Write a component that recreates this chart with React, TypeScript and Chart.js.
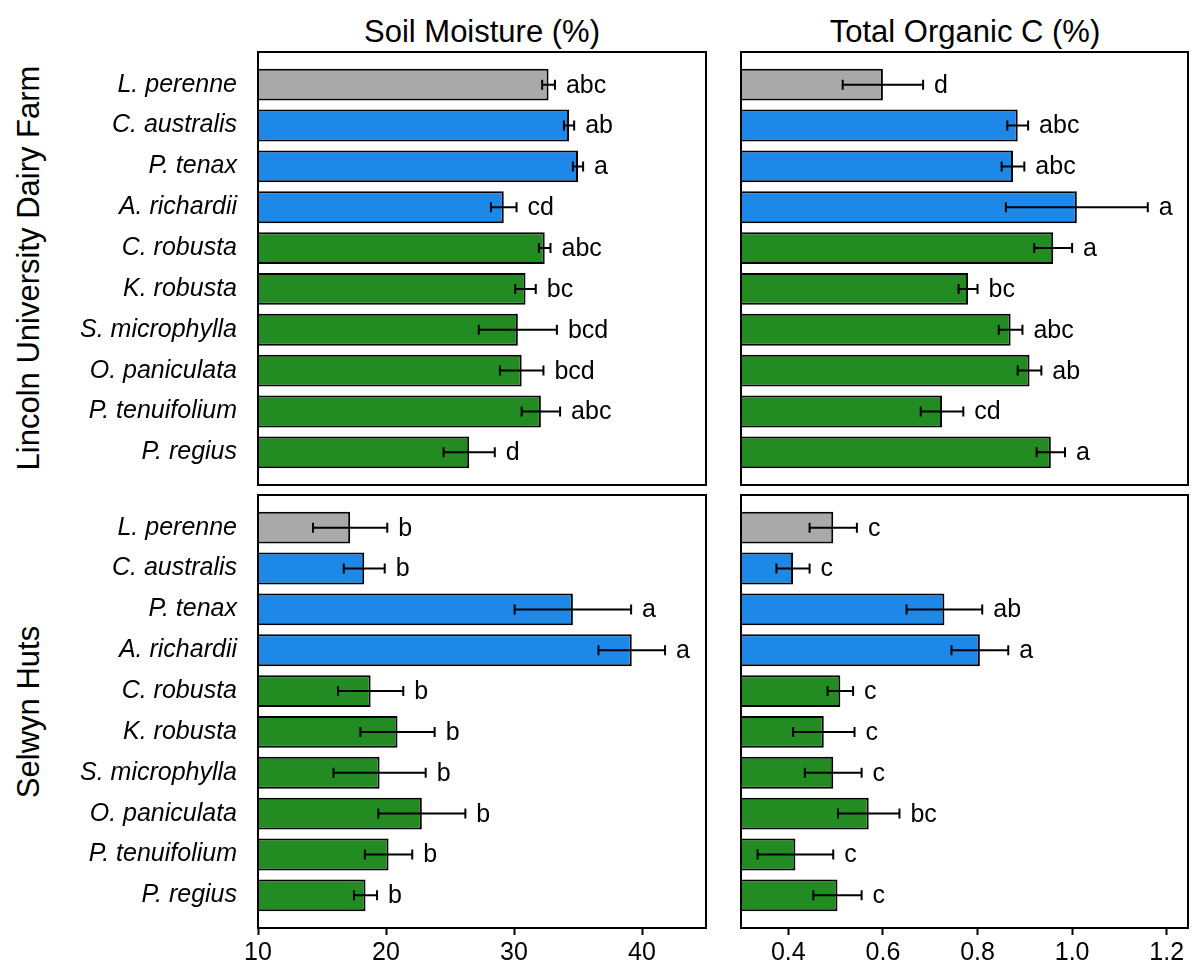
import React, { useEffect, useRef } from 'react';
import { Chart, registerables } from 'chart.js';

Chart.register(...registerables);

const FONT = '"Liberation Sans", Arial, Helvetica, sans-serif';

// Species, top to bottom, and their planting-group colours
const species = [
  'L. perenne',
  'C. australis',
  'P. tenax',
  'A. richardii',
  'C. robusta',
  'K. robusta',
  'S. microphylla',
  'O. paniculata',
  'P. tenuifolium',
  'P. regius',
];
const GRAY = '#A9A9A9';
const BLUE = '#1E88E8';
const GREEN = '#228B22';
const speciesFill = [GRAY, BLUE, BLUE, BLUE, GREEN, GREEN, GREEN, GREEN, GREEN, GREEN];

// Soil moisture (%), Lincoln University Dairy Farm
const lincolnMoisture = [32.7, 34.3, 35.0, 29.2, 32.4, 30.9, 30.3, 30.6, 32.1, 26.5];
const lincolnMoistureSe = [0.5, 0.4, 0.4, 1.0, 0.45, 0.8, 3.05, 1.7, 1.5, 2.0];
const lincolnMoistureLetters = ['abc', 'ab', 'a', 'cd', 'abc', 'bc', 'bcd', 'bcd', 'abc', 'd'];

// Soil moisture (%), Selwyn Huts
const selwynMoisture = [17.2, 18.3, 34.6, 39.2, 18.8, 20.9, 19.5, 22.8, 20.2, 18.4];
const selwynMoistureSe = [2.9, 1.6, 4.55, 2.6, 2.55, 2.9, 3.6, 3.4, 1.85, 0.9];
const selwynMoistureLetters = ['b', 'b', 'a', 'a', 'b', 'b', 'b', 'b', 'b', 'b'];

// Total organic C (%), Lincoln University Dairy Farm
const lincolnToc = [0.6, 0.885, 0.875, 1.01, 0.96, 0.78, 0.87, 0.91, 0.725, 0.955];
const lincolnTocSe = [0.085, 0.022, 0.024, 0.15, 0.04, 0.02, 0.025, 0.025, 0.045, 0.03];
const lincolnTocLetters = ['d', 'abc', 'abc', 'a', 'a', 'bc', 'abc', 'ab', 'cd', 'a'];

// Total organic C (%), Selwyn Huts
const selwynToc = [0.495, 0.41, 0.73, 0.805, 0.51, 0.475, 0.495, 0.57, 0.415, 0.504];
const selwynTocSe = [0.05, 0.035, 0.08, 0.06, 0.027, 0.065, 0.06, 0.065, 0.08, 0.051];
const selwynTocLetters = ['c', 'c', 'ab', 'a', 'c', 'c', 'c', 'bc', 'c', 'c'];

// Axis ranges and tick values
const moistureRange = [10, 45];
const moistureTicks = [10, 20, 30, 40];
const tocRange = [0.3, 1.245];
const tocTicks = [0.4, 0.6, 0.8, 1.0, 1.2];

type PanelProps = {
  values: number[];
  errors: number[];
  letters: string[];
  range: number[];
  ticks: number[];
  decimals: number;
  showSpecies: boolean;
  showXAxis: boolean;
  left: number;
  top: number;
  width: number;
  height: number;
  pad: { left: number; right: number; top: number; bottom: number };
  yAxisWidth: number;
  xAxisHeight: number;
};

function Panel(p: PanelProps) {
  const ref = useRef<HTMLCanvasElement | null>(null);

  useEffect(() => {
    if (!ref.current) return;

    // Mean ± SE whiskers, significance letters and the panel frame
    const errorBarsAndLetters = {
      id: 'errorBarsAndLetters',
      afterDatasetsDraw(chart: any) {
        const { ctx } = chart;
        const xs = chart.scales.x;
        const meta = chart.getDatasetMeta(0);
        ctx.save();
        ctx.strokeStyle = '#000';
        ctx.fillStyle = '#000';
        ctx.lineWidth = 2;
        ctx.font = `25px ${FONT}`;
        ctx.textAlign = 'left';
        ctx.textBaseline = 'middle';
        meta.data.forEach((bar: any, i: number) => {
          const v = p.values[i];
          const e = p.errors[i];
          const y = bar.y;
          const x0 = xs.getPixelForValue(v - e);
          const x1 = xs.getPixelForValue(v + e);
          const cap = 5;
          ctx.beginPath();
          ctx.moveTo(x0, y);
          ctx.lineTo(x1, y);
          ctx.moveTo(x0, y - cap);
          ctx.lineTo(x0, y + cap);
          ctx.moveTo(x1, y - cap);
          ctx.lineTo(x1, y + cap);
          ctx.stroke();
          ctx.fillText(p.letters[i], Math.max(x1, bar.x) + 11, y + 1);
        });
        const a = chart.chartArea;
        ctx.strokeRect(a.left, a.top, a.right - a.left, a.bottom - a.top);
        ctx.restore();
      },
    };

    const chart = new Chart(ref.current, {
      type: 'bar',
      data: {
        datasets: [
          {
            data: p.values.map((v, i) => ({ x: v, y: i })),
            backgroundColor: speciesFill,
            borderColor: '#000',
            borderWidth: 2,
            borderSkipped: 'start',
            barPercentage: 0.78,
            categoryPercentage: 1,
          },
        ],
      },
      options: {
        indexAxis: 'y',
        responsive: false,
        animation: false,
        events: [],
        layout: { padding: p.pad },
        plugins: {
          legend: { display: false },
          tooltip: { enabled: false },
          title: { display: false },
        },
        scales: {
          x: {
            type: 'linear',
            min: p.range[0],
            max: p.range[1],
            display: p.showXAxis,
            afterBuildTicks: (s: any) => {
              s.ticks = p.ticks.map((v) => ({ value: v }));
            },
            afterFit: (s: any) => {
              s.height = p.xAxisHeight;
              s.paddingLeft = 0;
              s.paddingRight = 0;
            },
            grid: {
              drawOnChartArea: false,
              drawTicks: true,
              tickLength: 7,
              tickWidth: 2,
              tickColor: '#000',
            },
            border: { display: false },
            ticks: {
              autoSkip: false,
              maxRotation: 0,
              padding: 3,
              color: '#000',
              font: { family: FONT, size: 25 },
              callback: (v: any) => Number(v).toFixed(p.decimals),
            },
          },
          y: {
            type: 'linear',
            min: -0.8,
            max: 9.8,
            offset: false,
            reverse: true,
            display: p.showSpecies,
            afterBuildTicks: (s: any) => {
              s.ticks = species.map((_, i) => ({ value: i }));
            },
            afterFit: (s: any) => {
              s.width = p.yAxisWidth;
              s.paddingTop = 0;
              s.paddingBottom = 0;
            },
            grid: { display: false, drawTicks: false },
            border: { display: false },
            ticks: {
              autoSkip: false,
              padding: 21,
              color: '#000',
              font: { family: FONT, size: 25, style: 'italic' },
              callback: (v: any) => species[Number(v)] ?? '',
            },
          },
        },
      } as any,
      plugins: [errorBarsAndLetters],
    });

    return () => chart.destroy();
  }, []);

  return (
    <canvas
      ref={ref}
      width={p.width}
      height={p.height}
      style={{ position: 'absolute', left: p.left, top: p.top, width: p.width, height: p.height, display: 'block' }}
    />
  );
}

const headingStyle: React.CSSProperties = {
  position: 'absolute',
  fontFamily: FONT,
  fontSize: 31,
  lineHeight: 1,
  whiteSpace: 'nowrap',
  color: '#000',
};

export default function App() {
  return (
    <div style={{ position: 'absolute', left: 0, top: 0, width: 1195, height: 965, background: '#fff', overflow: 'hidden' }}>
      <div style={{ ...headingStyle, left: 482, top: 31, transform: 'translate(-50%, -50%)' }}>Soil Moisture (%)</div>
      <div style={{ ...headingStyle, left: 965, top: 31, transform: 'translate(-50%, -50%)' }}>Total Organic C (%)</div>
      <div style={{ ...headingStyle, left: 28, top: 268, transform: 'translate(-50%, -50%) rotate(-90deg)' }}>
        Lincoln University Dairy Farm
      </div>
      <div style={{ ...headingStyle, left: 28, top: 712, transform: 'translate(-50%, -50%) rotate(-90deg)' }}>
        Selwyn Huts
      </div>

      <Panel
        values={lincolnMoisture}
        errors={lincolnMoistureSe}
        letters={lincolnMoistureLetters}
        range={moistureRange}
        ticks={moistureTicks}
        decimals={0}
        showSpecies={true}
        showXAxis={false}
        left={0}
        top={0}
        width={720}
        height={490}
        pad={{ left: 0, right: 14, top: 52, bottom: 5 }}
        yAxisWidth={258}
        xAxisHeight={0}
      />
      <Panel
        values={selwynMoisture}
        errors={selwynMoistureSe}
        letters={selwynMoistureLetters}
        range={moistureRange}
        ticks={moistureTicks}
        decimals={0}
        showSpecies={true}
        showXAxis={true}
        left={0}
        top={490}
        width={720}
        height={475}
        pad={{ left: 0, right: 14, top: 5, bottom: 0 }}
        yAxisWidth={258}
        xAxisHeight={37}
      />
      <Panel
        values={lincolnToc}
        errors={lincolnTocSe}
        letters={lincolnTocLetters}
        range={tocRange}
        ticks={tocTicks}
        decimals={1}
        showSpecies={false}
        showXAxis={false}
        left={720}
        top={0}
        width={475}
        height={490}
        pad={{ left: 21, right: 7, top: 52, bottom: 5 }}
        yAxisWidth={0}
        xAxisHeight={0}
      />
      <Panel
        values={selwynToc}
        errors={selwynTocSe}
        letters={selwynTocLetters}
        range={tocRange}
        ticks={tocTicks}
        decimals={1}
        showSpecies={false}
        showXAxis={true}
        left={720}
        top={490}
        width={475}
        height={475}
        pad={{ left: 21, right: 7, top: 5, bottom: 0 }}
        yAxisWidth={0}
        xAxisHeight={37}
      />
    </div>
  );
}
